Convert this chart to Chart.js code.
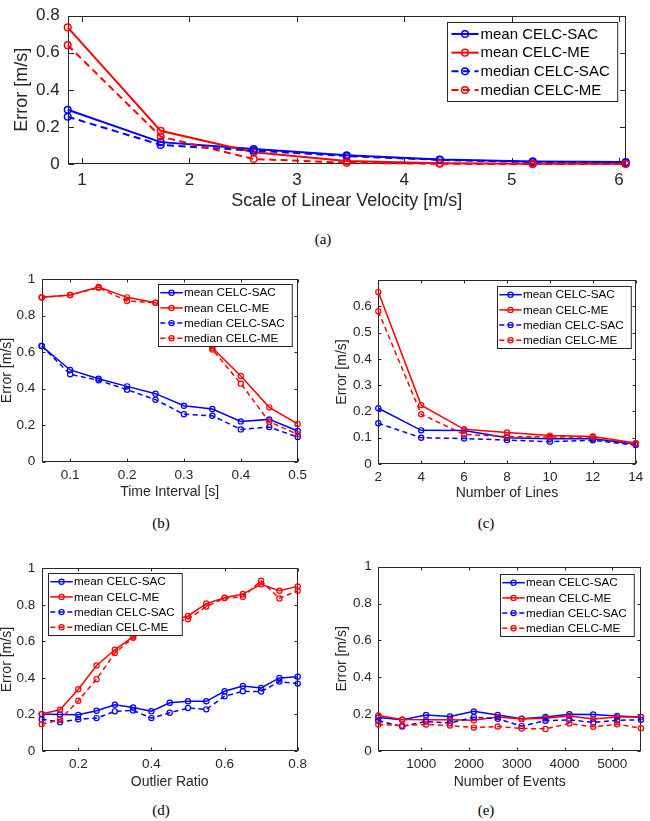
<!DOCTYPE html>
<html>
<head>
<meta charset="utf-8">
<script src="https://cdn.jsdelivr.net/npm/chart.js@4/dist/chart.umd.min.js"></script>
<style>
  html, body { margin: 0; padding: 0; background: #fff; }
  body { width: 650px; height: 821px; position: relative; overflow: hidden; }
  canvas { position: absolute; }
  .cap { position: absolute; font-family: "Liberation Serif", "Times New Roman", serif; font-size: 15px; color: #000; transform: translate(-50%, -50%); white-space: nowrap; }
</style>
</head>
<body>
<canvas id="ca" width="650" height="215" style="left:0px;top:0px;width:650px;height:215px"></canvas>
<canvas id="cb" width="325" height="250" style="left:0px;top:262px;width:325px;height:250px"></canvas>
<canvas id="cc" width="325" height="250" style="left:325px;top:262px;width:325px;height:250px"></canvas>
<canvas id="cd" width="325" height="250" style="left:0px;top:550px;width:325px;height:250px"></canvas>
<canvas id="ce" width="325" height="250" style="left:325px;top:550px;width:325px;height:250px"></canvas>
<div class="cap" style="left:323px;top:239px">(a)</div>
<div class="cap" style="left:161px;top:523px">(b)</div>
<div class="cap" style="left:486px;top:523px">(c)</div>
<div class="cap" style="left:161px;top:810px">(d)</div>
<div class="cap" style="left:486px;top:810px">(e)</div>
<script>
// ---------- DATA ----------
const seriesNames = ['mean CELC-SAC', 'mean CELC-ME', 'median CELC-SAC', 'median CELC-ME'];

// (a) Scale of linear velocity
const velX = [0.866, 1.732, 2.598, 3.464, 4.330, 5.196, 6.062];
const velMeanSAC = [0.293, 0.118, 0.081, 0.047, 0.024, 0.014, 0.011];
const velMeanME  = [0.737, 0.179, 0.063, 0.016, 0.004, 0.002, 0.001];
const velMedSAC  = [0.255, 0.103, 0.072, 0.043, 0.022, 0.011, 0.007];
const velMedME   = [0.641, 0.148, 0.027, 0.007, 0.001, 0.000, 0.000];
const velTicksX = [1, 2, 3, 4, 5, 6];
const velTicksY = [0, 0.2, 0.4, 0.6, 0.8];

// (b) Time interval
const intX = [0.05, 0.1, 0.15, 0.2, 0.25, 0.3, 0.35, 0.4, 0.45, 0.5];
const intMeanSAC = [0.634, 0.503, 0.455, 0.413, 0.373, 0.307, 0.289, 0.221, 0.232, 0.168];
const intMeanME  = [0.901, 0.914, 0.958, 0.901, 0.872, 0.800, 0.625, 0.470, 0.298, 0.207];
const intMedSAC  = [0.634, 0.479, 0.446, 0.395, 0.340, 0.260, 0.252, 0.177, 0.190, 0.135];
const intMedME   = [0.900, 0.914, 0.954, 0.881, 0.872, 0.780, 0.615, 0.428, 0.219, 0.150];
const intTicksX = [0.1, 0.2, 0.3, 0.4, 0.5];
const intTicksY = [0, 0.2, 0.4, 0.6, 0.8, 1];

// (c) Number of lines
const linX = [2, 4, 6, 8, 10, 12, 14];
const linMeanSAC = [0.212, 0.128, 0.127, 0.100, 0.096, 0.096, 0.075];
const linMeanME  = [0.654, 0.224, 0.132, 0.120, 0.108, 0.105, 0.080];
const linMedSAC  = [0.155, 0.100, 0.097, 0.091, 0.085, 0.090, 0.072];
const linMedME   = [0.581, 0.189, 0.113, 0.104, 0.103, 0.103, 0.076];
const linTicksX = [2, 4, 6, 8, 10, 12, 14];
const linTicksY = [0, 0.1, 0.2, 0.3, 0.4, 0.5, 0.6];

// (d) Outlier ratio
const outX = [0.1, 0.15, 0.2, 0.25, 0.3, 0.35, 0.4, 0.45, 0.5, 0.55, 0.6, 0.65, 0.7, 0.75, 0.8];
const outMeanSAC = [0.202, 0.200, 0.198, 0.220, 0.253, 0.238, 0.218, 0.264, 0.272, 0.272, 0.327, 0.356, 0.345, 0.400, 0.407];
const outMeanME  = [0.202, 0.226, 0.338, 0.468, 0.554, 0.626, 0.670, 0.710, 0.739, 0.807, 0.839, 0.859, 0.912, 0.877, 0.901];
const outMedSAC  = [0.174, 0.158, 0.174, 0.180, 0.217, 0.222, 0.180, 0.209, 0.235, 0.228, 0.300, 0.327, 0.325, 0.380, 0.369];
const outMedME   = [0.147, 0.171, 0.275, 0.393, 0.536, 0.620, 0.660, 0.700, 0.721, 0.791, 0.837, 0.844, 0.932, 0.835, 0.877];
const outTicksX = [0.2, 0.4, 0.6, 0.8];
const outTicksY = [0, 0.2, 0.4, 0.6, 0.8, 1];

// (e) Number of events
const evX = [100, 600, 1100, 1600, 2100, 2600, 3100, 3600, 4100, 4600, 5100, 5600];
const evMeanSAC = [0.182, 0.169, 0.195, 0.187, 0.215, 0.195, 0.175, 0.185, 0.200, 0.198, 0.190, 0.185];
const evMeanME  = [0.193, 0.171, 0.169, 0.169, 0.167, 0.185, 0.173, 0.178, 0.190, 0.173, 0.184, 0.184];
const evMedSAC  = [0.164, 0.133, 0.160, 0.151, 0.184, 0.175, 0.135, 0.164, 0.169, 0.155, 0.167, 0.169];
const evMedME   = [0.144, 0.138, 0.144, 0.138, 0.127, 0.133, 0.122, 0.120, 0.149, 0.131, 0.145, 0.124];
const evTicksX = [1000, 2000, 3000, 4000, 5000];
const evTicksY = [0, 0.2, 0.4, 0.6, 0.8, 1];

// ---------- RENDERING ----------
const FONT = '"Liberation Sans", Arial, Helvetica, sans-serif';
const AXC = '#262626';
const BLUE = '#0000ff', RED = '#ff0000';

const matlabPlugin = {
  id: 'matlab',
  beforeDatasetsDraw(chart, args, o) {
    const {ctx, chartArea: a, scales: {x, y}} = chart;
    ctx.save();
    ctx.strokeStyle = AXC;
    ctx.lineWidth = o.boxLW;
    ctx.setLineDash([]);
    const L = Math.round(a.left) + 0.5, R = Math.round(a.right) - 0.5;
    const T = Math.round(a.top) + 0.5, B = Math.round(a.bottom) - 0.5;
    ctx.strokeRect(L, T, R - L, B - T);
    const tl = o.tickLen;
    ctx.beginPath();
    x.ticks.forEach(t => {
      const px = Math.round(x.getPixelForValue(t.value)) + 0.5;
      ctx.moveTo(px, B); ctx.lineTo(px, B - tl);
      ctx.moveTo(px, T); ctx.lineTo(px, T + tl);
    });
    y.ticks.forEach(t => {
      const py = Math.round(y.getPixelForValue(t.value)) + 0.5;
      ctx.moveTo(L, py); ctx.lineTo(L + tl, py);
      ctx.moveTo(R, py); ctx.lineTo(R - tl, py);
    });
    ctx.stroke();
    ctx.restore();
  },
  afterDatasetsDraw(chart, args, o) {
    const {ctx, chartArea: a} = chart;
    const lg = o.legend;
    const ds = chart.data.datasets;
    ctx.save();
    ctx.font = lg.font + 'px ' + FONT;
    const maxW = Math.max(...ds.map(d => ctx.measureText(d.label).width));
    const w = lg.textX + maxW + lg.padR;
    const h = lg.h;
    const bx = Math.round(lg.corner === 'tr' ? a.right - lg.dx - w : a.left + lg.dx) + 0.5;
    const by = Math.round(a.top + lg.dy) + 0.5;
    ctx.fillStyle = '#fff';
    ctx.fillRect(bx, by, w, h);
    ctx.strokeStyle = AXC;
    ctx.lineWidth = 1;
    ctx.setLineDash([]);
    ctx.strokeRect(bx, by, w, h);
    const padTop = (h - ds.length * lg.rowH) / 2;
    ds.forEach((d, i) => {
      const cy = by + padTop + lg.rowH * (i + 0.5);
      ctx.strokeStyle = d.borderColor;
      ctx.lineWidth = d.borderWidth;
      ctx.setLineDash(d.borderDash || []);
      ctx.lineDashOffset = lg.dashOffset || 0;
      ctx.beginPath();
      ctx.moveTo(bx + lg.s0, cy); ctx.lineTo(bx + lg.s1, cy);
      ctx.stroke();
      ctx.setLineDash([]);
      ctx.lineWidth = d.pointBorderWidth;
      ctx.beginPath();
      ctx.arc(bx + (lg.s0 + lg.s1) / 2, cy, d.pointRadius, 0, Math.PI * 2);
      ctx.stroke();
      ctx.fillStyle = '#000';
      ctx.textBaseline = 'middle';
      ctx.textAlign = 'left';
      ctx.fillText(d.label, bx + lg.textX, cy + 0.5);
    });
    ctx.restore();
  }
};

function pts(xs, ys) { return xs.map((v, i) => ({x: v, y: ys[i]})); }

function makeChart(id, c) {
  const big = c.big;
  const lw = big ? 2 : 1.5;
  const pr = big ? 3.3 : 2.6;
  const pbw = big ? 1.5 : 1.2;
  const dash = big ? [7, 4.5] : [5, 3.5];
  const colors = [BLUE, RED, BLUE, RED];
  const series = c.series;
  const datasets = series.map((s, i) => ({
    label: seriesNames[i],
    data: pts(c.xs, s),
    borderColor: colors[i],
    borderWidth: lw,
    borderDash: i >= 2 ? dash : [],
    pointRadius: pr,
    pointBorderWidth: pbw,
    pointBorderColor: colors[i],
    pointBackgroundColor: 'rgba(0,0,0,0)',
    pointStyle: 'circle',
    tension: 0,
    fill: false,
    clip: 8,
    order: 4 - i
  }));
  const tickFont = {family: FONT, size: big ? 17 : 13.5};
  const titleFont = {family: FONT, size: big ? 18 : 14, lineHeight: 1};
  const canvas = document.getElementById(id);
  const H = canvas.height;
  return new Chart(canvas, {
    type: 'line',
    data: {datasets},
    plugins: [matlabPlugin],
    options: {
      responsive: false,
      animation: false,
      devicePixelRatio: 1,
      layout: {padding: {left: 0, top: c.top, right: c.right, bottom: 0}},
      plugins: {
        legend: {display: false},
        tooltip: {enabled: false},
        matlab: {boxLW: 1, tickLen: big ? 5.5 : 3, legend: c.legend}
      },
      scales: {
        x: {
          type: 'linear',
          min: c.xmin, max: c.xmax,
          grid: {display: false, drawTicks: false, tickLength: 0},
          border: {display: false},
          afterBuildTicks: s => { s.ticks = c.xticks.map(v => ({value: v})); },
          afterFit: s => { s.height = H - c.bottom; s.paddingLeft = 0; s.paddingRight = 0; },
          ticks: {font: tickFont, color: AXC, padding: big ? 5.8 : 5.2, maxRotation: 0, autoSkip: false,
                  callback: v => String(v)},
          title: {display: true, text: c.xtitle, font: titleFont, color: AXC, padding: {top: 0, bottom: c.xtPad}}
        },
        y: {
          type: 'linear',
          min: c.ymin, max: c.ymax,
          grid: {display: false, drawTicks: false, tickLength: 0},
          border: {display: false},
          afterBuildTicks: s => { s.ticks = c.yticks.map(v => ({value: v})); },
          afterFit: s => { s.width = c.left; s.paddingTop = 0; s.paddingBottom = 0; },
          ticks: {font: tickFont, color: AXC, padding: big ? 8 : 6.5, autoSkip: false,
                  callback: v => String(v)},
          title: {display: true, text: 'Error [m/s]', font: titleFont, color: AXC, padding: {top: c.ytPad, bottom: 0}}
        }
      }
    }
  });
}

const bigLegend = {corner: 'tr', dx: 8, dy: 6, font: 15, rowH: 18.7, h: 79, s0: 4, s1: 31, textX: 33, padR: 8};
const smallLegendTR = (dx, dy) => ({corner: 'tr', dx, dy, font: 11.7, rowH: 15.2, h: 62, s0: 1.8, s1: 24.3, textX: 25.6, padR: 7.5});
const smallLegendTL = (dx, dy) => ({corner: 'tl', dx, dy, font: 11.7, rowH: 15.2, h: 62, s0: 1.8, s1: 24.3, textX: 25.6, padR: 7.5});

makeChart('ca', {
  big: true, xs: velX, series: [velMeanSAC, velMeanME, velMedSAC, velMedME],
  xmin: 0.866, xmax: 6.062, ymin: 0, ymax: 0.8, xticks: velTicksX, yticks: velTicksY,
  top: 15.7, right: 24.3, left: 67.7, bottom: 164, xtitle: 'Scale of Linear Velocity [m/s]',
  xtPad: 5, ytPad: 13.3, legend: bigLegend
});
makeChart('cb', {
  big: false, xs: intX, series: [intMeanSAC, intMeanME, intMedSAC, intMedME],
  xmin: 0.05, xmax: 0.5, ymin: 0, ymax: 1, xticks: intTicksX, yticks: intTicksY,
  top: 17.3, right: 27.3, left: 41.7, bottom: 199.7, xtitle: 'Time Interval [s]',
  xtPad: 13, ytPad: 0, legend: smallLegendTR(5.7, 4.7)
});
makeChart('cc', {
  big: false, xs: linX, series: [linMeanSAC, linMeanME, linMedSAC, linMedME],
  xmin: 2, xmax: 14, ymin: 0, ymax: 0.7, xticks: linTicksX, yticks: linTicksY,
  top: 18, right: 14.3, left: 53.3, bottom: 202, xtitle: 'Number of Lines',
  xtPad: 11.7, ytPad: 10.3, legend: smallLegendTR(5, 6)
});
makeChart('cd', {
  big: false, xs: outX, series: [outMeanSAC, outMeanME, outMedSAC, outMedME],
  xmin: 0.1, xmax: 0.8, ymin: 0, ymax: 1, xticks: outTicksX, yticks: outTicksY,
  top: 18.3, right: 27.3, left: 41.7, bottom: 201, xtitle: 'Outlier Ratio',
  xtPad: 11.3, ytPad: 0, legend: smallLegendTL(6, 4.4)
});
makeChart('ce', {
  big: false, xs: evX, series: [evMeanSAC, evMeanME, evMedSAC, evMedME],
  xmin: 100, xmax: 5600, ymin: 0, ymax: 1, xticks: evTicksX, yticks: evTicksY,
  top: 16.7, right: 9, left: 53.3, bottom: 201, xtitle: 'Number of Events',
  xtPad: 11.3, ytPad: 10.3, legend: smallLegendTR(7.5, 7.3)
});
</script>
</body>
</html>
